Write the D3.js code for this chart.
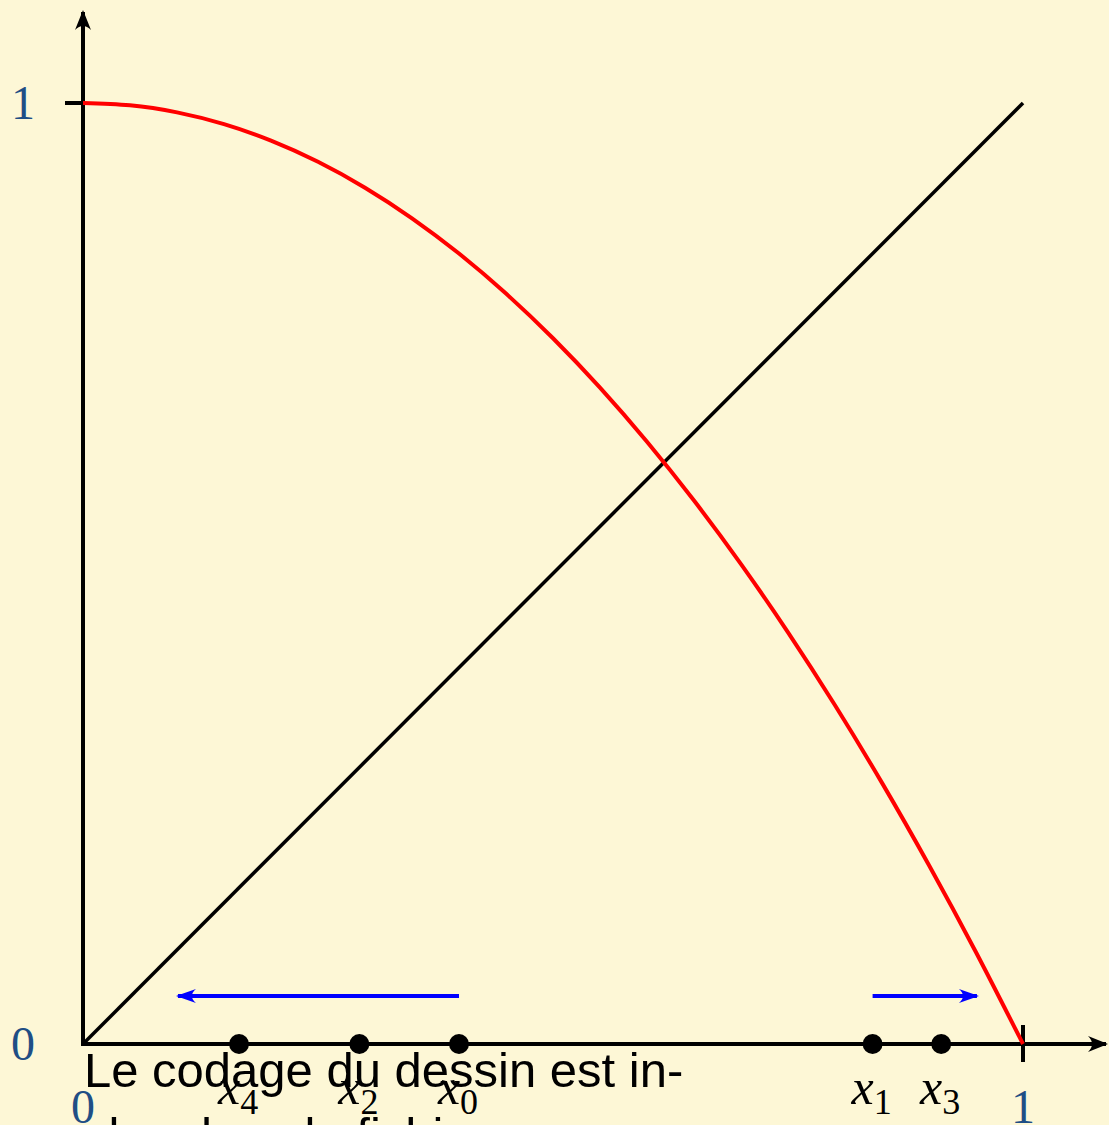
<!DOCTYPE html>
<html>
<head>
<meta charset="utf-8">
<script src="https://cdnjs.cloudflare.com/ajax/libs/d3/7.8.5/d3.min.js"></script>
<style>
  body { margin: 0; background: #fdf7d6; overflow: hidden; }
  svg { display: block; }
</style>
</head>
<body>
<div id="chart"></div>
<script>
// red curve
var curveX = [0, 0.05, 0.1, 0.15, 0.2, 0.25, 0.3, 0.35, 0.4, 0.45, 0.5,
              0.55, 0.6, 0.65, 0.7, 0.75, 0.8, 0.85, 0.9, 0.95, 1];
var curveY = [1, 0.9975, 0.99, 0.9775, 0.96, 0.9375, 0.91, 0.8775, 0.84, 0.7975, 0.75,
              0.6975, 0.64, 0.5775, 0.51, 0.4375, 0.36, 0.2775, 0.19, 0.0975, 0];
// the diagonal y = x
var diagX = [0, 1];
var diagY = [0, 1];
// iterates on the x axis
var iterX = [0.4, 0.84, 0.294, 0.913, 0.166];
var iterNames = ["0", "1", "2", "3", "4"];
// blue arrows
var arrowFrom = [0.4, 0.84];
var arrowTo = [0.101, 0.951];
var arrowLevel = 0.051;
// tick labels
var xTicks = [0, 1];
var yTicks = [0, 1];
var note = ["Le codage du dessin est in-", "clus dans le fichier source."];

var W = 1109, H = 1125;
var labelBlue = "#1f4e85";

var svg = d3.select("#chart").append("svg")
    .attr("width", W)
    .attr("height", H);

var x = d3.scaleLinear().domain([0, 1]).range([83, 1023]);
var y = d3.scaleLinear().domain([0, 1]).range([1044, 103]);

var defs = svg.append("defs");
function marker(id, color, len, half) {
  defs.append("marker")
      .attr("id", id)
      .attr("viewBox", (-len - 2) + " " + (-half - 1) + " " + (len + 4) + " " + (2 * half + 2))
      .attr("refX", 0).attr("refY", 0)
      .attr("markerWidth", len + 4).attr("markerHeight", 2 * half + 2)
      .attr("markerUnits", "userSpaceOnUse")
      .attr("orient", "auto")
    .append("path")
      .attr("d", "M2,0 L" + (-len) + "," + (-half) + " Q" + (-len * 0.55) + ",0 " + (-len) + "," + half + " Z")
      .attr("fill", color);
}
marker("ahBlack", "#000", 18, 8);
marker("ahBlue", "#0000ff", 18, 7);

// axes
svg.append("line")
    .attr("x1", x(0)).attr("y1", y(0) + 2)
    .attr("x2", x(0)).attr("y2", 12)
    .attr("stroke", "#000").attr("stroke-width", 4)
    .attr("marker-end", "url(#ahBlack)");
svg.append("line")
    .attr("x1", x(0) - 2).attr("y1", y(0))
    .attr("x2", 1106).attr("y2", y(0))
    .attr("stroke", "#000").attr("stroke-width", 4)
    .attr("marker-end", "url(#ahBlack)");

// tick marks
svg.append("line")
    .attr("x1", x(0) - 18).attr("x2", x(0))
    .attr("y1", y(1)).attr("y2", y(1))
    .attr("stroke", "#000").attr("stroke-width", 4);
svg.append("line")
    .attr("x1", x(1)).attr("x2", x(1))
    .attr("y1", y(0) - 19).attr("y2", y(0) + 18)
    .attr("stroke", "#000").attr("stroke-width", 4);

// tick labels
svg.selectAll("text.ylab")
  .data(yTicks)
  .enter().append("text")
    .attr("class", "ylab")
    .attr("x", 23)
    .attr("y", function(d) { return y(d) + 16; })
    .attr("text-anchor", "middle")
    .attr("font-family", "'Liberation Serif', 'DejaVu Serif', serif")
    .attr("font-size", 48)
    .attr("fill", labelBlue)
    .text(function(d) { return d; });

svg.selectAll("text.xlab")
  .data(xTicks)
  .enter().append("text")
    .attr("class", "xlab")
    .attr("x", function(d) { return x(d); })
    .attr("y", 1123)
    .attr("text-anchor", "middle")
    .attr("font-family", "'Liberation Serif', 'DejaVu Serif', serif")
    .attr("font-size", 48)
    .attr("fill", labelBlue)
    .text(function(d) { return d; });

// diagonal
svg.append("path")
    .datum(d3.zip(diagX, diagY))
    .attr("d", d3.line().x(function(d) { return x(d[0]); }).y(function(d) { return y(d[1]); }))
    .attr("fill", "none")
    .attr("stroke", "#000")
    .attr("stroke-width", 3.5);

// red curve
svg.append("path")
    .datum(d3.zip(curveX, curveY))
    .attr("d", d3.line()
        .x(function(d) { return x(d[0]); })
        .y(function(d) { return y(d[1]); })
        .curve(d3.curveNatural))
    .attr("fill", "none")
    .attr("stroke", "#ff0000")
    .attr("stroke-width", 4);

// blue arrows
svg.selectAll("line.arr")
  .data(d3.zip(arrowFrom, arrowTo))
  .enter().append("line")
    .attr("class", "arr")
    .attr("x1", function(d) { return x(d[0]); })
    .attr("x2", function(d) { return x(d[1]); })
    .attr("y1", y(arrowLevel))
    .attr("y2", y(arrowLevel))
    .attr("stroke", "#0000ff")
    .attr("stroke-width", 4)
    .attr("marker-end", "url(#ahBlue)");

// iterate points
svg.selectAll("circle.pt")
  .data(iterX)
  .enter().append("circle")
    .attr("class", "pt")
    .attr("cx", function(d) { return x(d); })
    .attr("cy", y(0))
    .attr("r", 10)
    .attr("fill", "#000");

// note text (overlay)
svg.selectAll("text.note")
  .data(note)
  .enter().append("text")
    .attr("class", "note")
    .attr("x", 84)
    .attr("y", function(d, i) { return 1087 + i * 65; })
    .attr("font-family", "'Liberation Sans', Arial, sans-serif")
    .attr("font-size", 49)
    .attr("fill", "#000")
    .text(function(d) { return d; });

// iterate labels
var lab = svg.selectAll("text.ilab")
  .data(d3.zip(iterX, iterNames))
  .enter().append("text")
    .attr("class", "ilab")
    .attr("x", function(d) { return x(d[0]) - 1; })
    .attr("y", 1104)
    .attr("text-anchor", "middle")
    .attr("font-family", "'Liberation Serif', 'DejaVu Serif', serif")
    .attr("font-size", 50)
    .attr("fill", "#000");
lab.append("tspan")
    .attr("font-style", "italic")
    .text("x");
lab.append("tspan")
    .attr("font-size", 36)
    .attr("dy", 10)
    .text(function(d) { return d[1]; });
</script>
</body>
</html>
